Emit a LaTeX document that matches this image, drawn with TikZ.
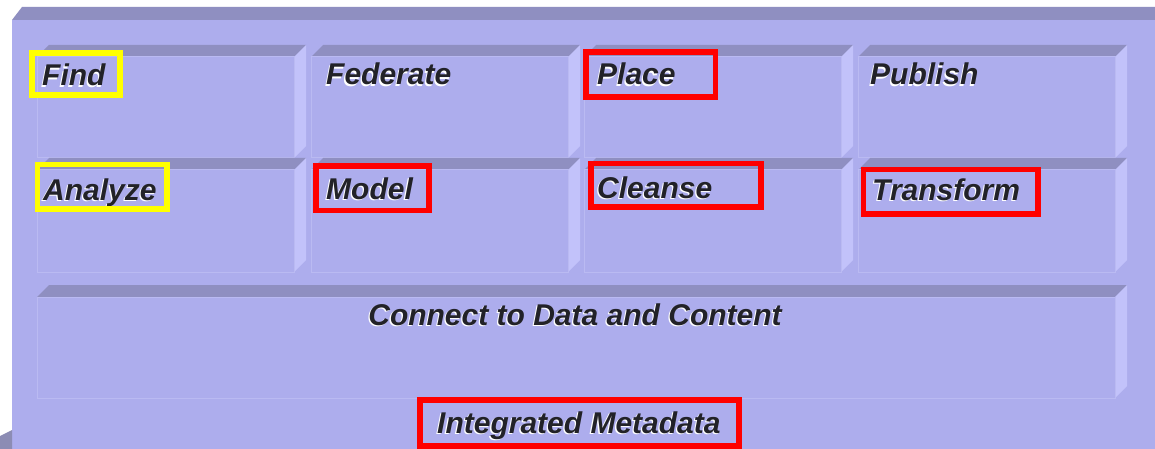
\documentclass[tikz,border=0pt]{standalone}
\usepackage{fontspec}
\setmainfont{Liberation Sans}
\usepackage{xcolor}
\definecolor{panelface}{RGB}{173,173,237}
\definecolor{paneltop}{RGB}{143,143,193}
\definecolor{panelside}{RGB}{194,194,250}
\definecolor{faceline}{RGB}{186,186,242}
\definecolor{txtgray}{RGB}{34,34,40}
\definecolor{hiyellow}{RGB}{255,255,0}
\definecolor{hired}{RGB}{255,0,0}

% one raised tile: face corners (x0,y0) and (x1,y1)
\newcommand{\drawtile}[4]{%
\fill[paneltop] (#1,#2) -- ++(12,-12) -- (#3+12,#2-12) -- (#3,#2) -- cycle;
\fill[panelside] (#3,#2) -- ++(12,-12) -- (#3+12,#4-12) -- (#3,#4) -- cycle;
\draw[tileface] (#1,#2) rectangle (#3,#4);
}
% text with a white shadow
\newcommand{\boxlabel}[4]{%
\node[lbl, text=white, anchor=#3] at ([shift={(-1.3,1.6)}]#2) {#4};
\node[lbl, anchor=#3] (#1) at (#2) {#4};
}

\begin{document}
\begin{tikzpicture}[x=1pt,y=-1pt,
  tileface/.style={fill=panelface, draw=faceline, line width=1pt},
  lbl/.style={font=\fontsize{30}{35}\selectfont\bfseries\itshape, text=txtgray, inner sep=0},
  hibox/.style={line width=5.5pt}]
\useasboundingbox (0,0) rectangle (1155,449);
\fill[white] (0,0) rectangle (1155,449);
% outer panel
\fill[paneltop] (12,20) -- (22,7) -- (1155,7) -- (1155,20) -- cycle;
\fill[panelface] (12,20) rectangle (1155,449);
\fill[paneltop!80!gray] (0,436) -- (12,430) -- (12,449) -- (0,449) -- cycle;
% tiles
\foreach \x in {37,311,584,858} {
 \drawtile{\x}{57}{\x+257}{158}
 \drawtile{\x}{170}{\x+257}{272}
}
\drawtile{37}{297}{1115}{398}
% labels
\boxlabel{find}{42,86}{base west}{Find}
\boxlabel{federate}{326,85}{base west}{Federate}
\boxlabel{place}{597,85}{base west}{Place}
\boxlabel{publish}{870,85}{base west}{Publish}
\boxlabel{analyze}{43,200}{base west}{Analyze}
\boxlabel{model}{326,199}{base west}{Model}
\boxlabel{cleanse}{597,198}{base west}{Cleanse}
\boxlabel{transform}{872,200}{base west}{Transform}
\boxlabel{connect}{575,325}{base}{Connect to Data and Content}
\boxlabel{metadata}{437,433}{base west}{Integrated Metadata}
% highlights
\draw[hibox, hiyellow] (32,53) rectangle (120,95);
\draw[hibox, hiyellow] (37.5,164.5) rectangle (167,209);
\draw[hibox, hired] (316,166) rectangle (429,210.5);
\draw[hibox, hired] (586,52) rectangle (715.5,97);
\draw[hibox, hired] (591,163.5) rectangle (761,207);
\draw[hibox, hired] (863.5,169.5) rectangle (1038,214);
\draw[hibox, hired] (420,400) rectangle (739,446);
\end{tikzpicture}
\end{document}
